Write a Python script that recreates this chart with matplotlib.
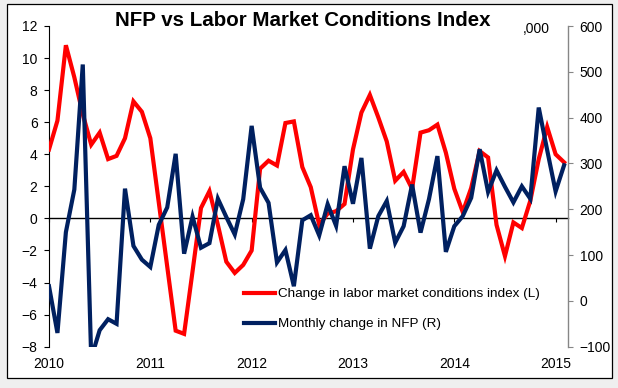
import matplotlib
matplotlib.use("Agg")
import matplotlib.pyplot as plt
from matplotlib.patches import Rectangle
import numpy as np

plt.rcParams['font.family'] = ['Liberation Sans', 'DejaVu Sans']

# Monthly data, Jan 2010 .. Feb 2015
year_labels = ['2010', '2011', '2012', '2013', '2014', '2015']

lmci = [4.3, 6.1, 10.8, 8.8, 6.5, 4.6, 5.35, 3.7, 3.9, 5.0, 7.3, 6.65,
        5.0, 1.0, -3.0, -7.0, -7.2, -3.3, 0.65, 1.7, -0.4, -2.7, -3.4, -2.9,
        -2.0, 3.1, 3.6, 3.3, 5.95, 6.05, 3.2, 1.95, -0.4, 0.3, 0.45, 0.9,
        4.3, 6.6, 7.7, 6.3, 4.8, 2.35, 2.9, 1.85, 5.35, 5.5, 5.85, 4.1,
        1.85, 0.4, 1.9, 4.2, 3.8, -0.4, -2.35, -0.25, -0.6, 1.1, 3.7, 5.7,
        4.0, 3.5]

nfp = [32, -70, 150, 243, 516, -125, -64, -40, -50, 245, 120, 90,
       74, 166, 204, 321, 103, 184, 116, 126, 223, 183, 145, 222,
       382, 247, 214, 84, 111, 32, 176, 187, 143, 211, 164, 294,
       212, 312, 114, 185, 218, 127, 163, 254, 149, 222, 316, 107,
       163, 185, 225, 331, 238, 285, 249, 215, 250, 223, 422, 329,
       239, 296]

lmci_label = 'Change in labor market conditions index (L)'
nfp_label = 'Monthly change in NFP (R)'

W, H = 618, 388
fig = plt.figure(figsize=(W / 100, H / 100), dpi=100, facecolor='#efefef')
fig.patches.append(Rectangle((6.7 / W, 1 - 377.7 / H), (611.7 - 6.7) / W, (377.7 - 4.3) / H,
                             transform=fig.transFigure, facecolor='white',
                             edgecolor='black', linewidth=0.9, zorder=-1))

L, R, T, B = 49, 567.7, 26, 346.7
ax = fig.add_axes([L / W, 1 - B / H, (R - L) / W, (B - T) / H])
ax.set_facecolor('none')
ax2 = ax.twinx()
ax2.set_facecolor('none')

x = np.arange(len(lmci))
red = '#ff0000'
navy = '#002060'

h1, = ax.plot(x, lmci, color=red, lw=3.0, solid_joinstyle='miter', zorder=3)
h2, = ax2.plot(np.arange(len(nfp)), nfp, color=navy, lw=3.0, solid_joinstyle='miter', zorder=3)

ax.set_xlim(0, 61.43)
ax.set_ylim(-8, 12)
ax.set_yticks(np.arange(-8, 13, 2))
ax2.set_ylim(-100, 600)
ax2.set_yticks(np.arange(-100, 601, 100))

ax.set_xticks(np.arange(0, 61, 12))
ax.set_xticklabels(year_labels)

for s in ['top', 'right']:
    ax.spines[s].set_visible(False)
ax.spines['left'].set_color('black')
ax.spines['left'].set_linewidth(0.8)
ax.spines['bottom'].set_position(('data', 0))
ax.spines['bottom'].set_linewidth(1.0)
ax.spines['bottom'].set_color('black')

for s in ['top', 'left', 'bottom']:
    ax2.spines[s].set_visible(False)
ax2.spines['right'].set_color('#868686')
ax2.spines['right'].set_linewidth(1.0)

ax.tick_params(axis='y', direction='out', length=3.6, width=0.8, pad=4.6,
               labelsize=10, colors='black')
ax.tick_params(axis='x', direction='out', length=3.0, width=0.8, pad=97,
               labelsize=10, colors='black')
ax2.tick_params(axis='y', direction='out', length=3.6, width=0.8, pad=5,
                labelsize=10, color='#868686', labelcolor='black')

fig.text(303 / W, 1 - 21 / H, 'NFP vs Labor Market Conditions Index',
         ha='center', va='center', fontsize=14.8, fontweight='bold')
fig.text(536 / W, 1 - 29 / H, ',000', ha='center', va='center', fontsize=10)

leg = ax.legend([h1, h2], [lmci_label, nfp_label], loc='upper left',
                bbox_to_anchor=(244 / W, 1 - 288 / H), bbox_transform=fig.transFigure,
                frameon=False, fontsize=9.7, handlelength=2.3, handletextpad=0.25,
                labelspacing=1.3, borderpad=0, borderaxespad=0)

fig.savefig('out.png', dpi=100, facecolor=fig.get_facecolor())
